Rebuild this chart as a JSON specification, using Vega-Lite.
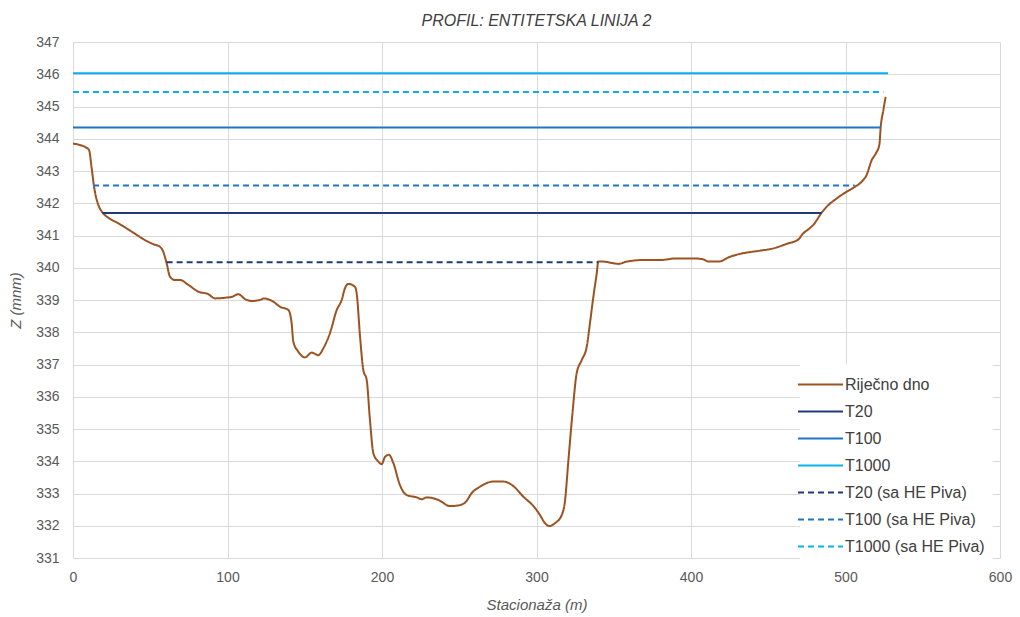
{
  "$schema": "https://vega.github.io/schema/vega-lite/v6.json",
  "width": 927,
  "height": 516,
  "autosize": "none",
  "padding": {"left": 73, "top": 42, "right": 20, "bottom": 59},
  "background": "white",
  "title": {
    "text": "PROFIL: ENTITETSKA LINIJA 2",
    "font": "Liberation Sans",
    "fontSize": 16,
    "fontStyle": "italic",
    "fontWeight": "normal",
    "color": "#404040",
    "baseline": "bottom",
    "offset": -10,
    "anchor": "middle"
  },
  "config": {
    "view": {"stroke": null},
    "font": "Liberation Sans"
  },
  "data": {
    "values": [
      {"s": "Riječno dno", "x": 0, "z": 343.85},
      {"s": "Riječno dno", "x": 8.8, "z": 343.72},
      {"s": "Riječno dno", "x": 10.4, "z": 343.65},
      {"s": "Riječno dno", "x": 12.1, "z": 343.08},
      {"s": "Riječno dno", "x": 13.8, "z": 342.46},
      {"s": "Riječno dno", "x": 16.4, "z": 341.95},
      {"s": "Riječno dno", "x": 19, "z": 341.72},
      {"s": "Riječno dno", "x": 22.9, "z": 341.55},
      {"s": "Riječno dno", "x": 29.3, "z": 341.38},
      {"s": "Riječno dno", "x": 38, "z": 341.12},
      {"s": "Riječno dno", "x": 46.6, "z": 340.86},
      {"s": "Riječno dno", "x": 52, "z": 340.73},
      {"s": "Riječno dno", "x": 56.3, "z": 340.65},
      {"s": "Riječno dno", "x": 58.4, "z": 340.5},
      {"s": "Riječno dno", "x": 60.6, "z": 340.14},
      {"s": "Riječno dno", "x": 62.8, "z": 339.72},
      {"s": "Riječno dno", "x": 66, "z": 339.62},
      {"s": "Riječno dno", "x": 69.3, "z": 339.62},
      {"s": "Riječno dno", "x": 74.6, "z": 339.47},
      {"s": "Riječno dno", "x": 81.1, "z": 339.26},
      {"s": "Riječno dno", "x": 87.6, "z": 339.18},
      {"s": "Riječno dno", "x": 91.9, "z": 339.05},
      {"s": "Riječno dno", "x": 98.4, "z": 339.07},
      {"s": "Riječno dno", "x": 103, "z": 339.1},
      {"s": "Riječno dno", "x": 107, "z": 339.18},
      {"s": "Riječno dno", "x": 111.3, "z": 339.03},
      {"s": "Riječno dno", "x": 115.7, "z": 338.97},
      {"s": "Riječno dno", "x": 122.1, "z": 339.02},
      {"s": "Riječno dno", "x": 123.2, "z": 339.05},
      {"s": "Riječno dno", "x": 129.6, "z": 338.95},
      {"s": "Riječno dno", "x": 134, "z": 338.79},
      {"s": "Riječno dno", "x": 139.4, "z": 338.69},
      {"s": "Riječno dno", "x": 141.5, "z": 338.28},
      {"s": "Riječno dno", "x": 142.6, "z": 337.71},
      {"s": "Riječno dno", "x": 145.8, "z": 337.4},
      {"s": "Riječno dno", "x": 150.2, "z": 337.22},
      {"s": "Riječno dno", "x": 154.5, "z": 337.37},
      {"s": "Riječno dno", "x": 158.8, "z": 337.29},
      {"s": "Riječno dno", "x": 162, "z": 337.5},
      {"s": "Riječno dno", "x": 166.3, "z": 337.97},
      {"s": "Riječno dno", "x": 170.7, "z": 338.69},
      {"s": "Riječno dno", "x": 173.9, "z": 339.0},
      {"s": "Riječno dno", "x": 176, "z": 339.36},
      {"s": "Riječno dno", "x": 178.2, "z": 339.5},
      {"s": "Riječno dno", "x": 182.5, "z": 339.41},
      {"s": "Riječno dno", "x": 183.6, "z": 339.21},
      {"s": "Riječno dno", "x": 185.8, "z": 337.86},
      {"s": "Riječno dno", "x": 187.9, "z": 336.83},
      {"s": "Riječno dno", "x": 190.1, "z": 336.52},
      {"s": "Riječno dno", "x": 192.2, "z": 335.28},
      {"s": "Riječno dno", "x": 194.4, "z": 334.25},
      {"s": "Riječno dno", "x": 197.6, "z": 333.99},
      {"s": "Riječno dno", "x": 199.8, "z": 333.91},
      {"s": "Riječno dno", "x": 202, "z": 334.14},
      {"s": "Riječno dno", "x": 204.5, "z": 334.2},
      {"s": "Riječno dno", "x": 207.3, "z": 333.95},
      {"s": "Riječno dno", "x": 211.7, "z": 333.25},
      {"s": "Riječno dno", "x": 216, "z": 332.95},
      {"s": "Riječno dno", "x": 222.5, "z": 332.88},
      {"s": "Riječno dno", "x": 225.7, "z": 332.82},
      {"s": "Riječno dno", "x": 228.9, "z": 332.88},
      {"s": "Riječno dno", "x": 236.5, "z": 332.8},
      {"s": "Riječno dno", "x": 244, "z": 332.61},
      {"s": "Riječno dno", "x": 250.5, "z": 332.64},
      {"s": "Riječno dno", "x": 254.4, "z": 332.75},
      {"s": "Riječno dno", "x": 258, "z": 333.01},
      {"s": "Riječno dno", "x": 263.4, "z": 333.21},
      {"s": "Riječno dno", "x": 272, "z": 333.37},
      {"s": "Riječno dno", "x": 278.5, "z": 333.37},
      {"s": "Riječno dno", "x": 285, "z": 333.23},
      {"s": "Riječno dno", "x": 291.5, "z": 332.9},
      {"s": "Riječno dno", "x": 298, "z": 332.61},
      {"s": "Riječno dno", "x": 302.3, "z": 332.33},
      {"s": "Riječno dno", "x": 305.5, "z": 332.08},
      {"s": "Riječno dno", "x": 308.3, "z": 331.99},
      {"s": "Riječno dno", "x": 312, "z": 332.08},
      {"s": "Riječno dno", "x": 316.3, "z": 332.33},
      {"s": "Riječno dno", "x": 318.4, "z": 332.75},
      {"s": "Riječno dno", "x": 320.6, "z": 334.0},
      {"s": "Riječno dno", "x": 323.3, "z": 335.5},
      {"s": "Riječno dno", "x": 326, "z": 336.73},
      {"s": "Riječno dno", "x": 329.3, "z": 337.14},
      {"s": "Riječno dno", "x": 332.5, "z": 337.55},
      {"s": "Riječno dno", "x": 334.6, "z": 338.28},
      {"s": "Riječno dno", "x": 336.8, "z": 339.1},
      {"s": "Riječno dno", "x": 339, "z": 339.83},
      {"s": "Riječno dno", "x": 340, "z": 340.19},
      {"s": "Riječno dno", "x": 343.2, "z": 340.19},
      {"s": "Riječno dno", "x": 349.7, "z": 340.14},
      {"s": "Riječno dno", "x": 353, "z": 340.12},
      {"s": "Riječno dno", "x": 358.4, "z": 340.19},
      {"s": "Riječno dno", "x": 369.1, "z": 340.24},
      {"s": "Riječno dno", "x": 380, "z": 340.24},
      {"s": "Riječno dno", "x": 390.7, "z": 340.29},
      {"s": "Riječno dno", "x": 401.5, "z": 340.29},
      {"s": "Riječno dno", "x": 408, "z": 340.26},
      {"s": "Riječno dno", "x": 411.2, "z": 340.19},
      {"s": "Riječno dno", "x": 417.7, "z": 340.19},
      {"s": "Riječno dno", "x": 425.2, "z": 340.34},
      {"s": "Riječno dno", "x": 431.7, "z": 340.43},
      {"s": "Riječno dno", "x": 440.3, "z": 340.5},
      {"s": "Riječno dno", "x": 444.7, "z": 340.53},
      {"s": "Riječno dno", "x": 453.3, "z": 340.6},
      {"s": "Riječno dno", "x": 461.9, "z": 340.74},
      {"s": "Riječno dno", "x": 469.5, "z": 340.88},
      {"s": "Riječno dno", "x": 472.7, "z": 341.07},
      {"s": "Riječno dno", "x": 475.9, "z": 341.19},
      {"s": "Riječno dno", "x": 479.2, "z": 341.33},
      {"s": "Riječno dno", "x": 484.6, "z": 341.71},
      {"s": "Riječno dno", "x": 487.8, "z": 341.89},
      {"s": "Riječno dno", "x": 494.3, "z": 342.15},
      {"s": "Riječno dno", "x": 500.8, "z": 342.36},
      {"s": "Riječno dno", "x": 506.1, "z": 342.51},
      {"s": "Riječno dno", "x": 510.5, "z": 342.67},
      {"s": "Riječno dno", "x": 513.7, "z": 342.88},
      {"s": "Riječno dno", "x": 517, "z": 343.34},
      {"s": "Riječno dno", "x": 519.7, "z": 343.55},
      {"s": "Riječno dno", "x": 521.9, "z": 343.81},
      {"s": "Riječno dno", "x": 522.8, "z": 344.37},
      {"s": "Riječno dno", "x": 524.5, "z": 344.89},
      {"s": "Riječno dno", "x": 526, "z": 345.3},
      {"s": "T20", "x": 19, "z": 341.7},
      {"s": "T20", "x": 484.6, "z": 341.7},
      {"s": "T100", "x": 0, "z": 344.35},
      {"s": "T100", "x": 522.8, "z": 344.35},
      {"s": "T1000", "x": 0, "z": 346.03},
      {"s": "T1000", "x": 527.5, "z": 346.03},
      {"s": "T20 (sa HE Piva)", "x": 60.6, "z": 340.17},
      {"s": "T20 (sa HE Piva)", "x": 340, "z": 340.17},
      {"s": "T100 (sa HE Piva)", "x": 13, "z": 342.55},
      {"s": "T100 (sa HE Piva)", "x": 506, "z": 342.55},
      {"s": "T1000 (sa HE Piva)", "x": 0, "z": 345.45},
      {"s": "T1000 (sa HE Piva)", "x": 524.5, "z": 345.45}
    ]
  },
  "mark": {"type": "line", "strokeWidth": 2, "interpolate": "monotone"},
  "encoding": {
    "x": {
      "field": "x",
      "type": "quantitative",
      "scale": {"domain": [0, 600], "nice": false, "zero": false},
      "axis": {
        "title": "Stacionaža (m)",
        "values": [0, 100, 200, 300, 400, 500, 600],
        "grid": true,
        "gridColor": "#d9d9d9",
        "gridWidth": 1,
        "domainColor": "#d9d9d9",
        "ticks": false,
        "labelFontSize": 14,
        "labelColor": "#595959",
        "labelPadding": 12,
        "labelFlush": false,
        "titleFontSize": 15,
        "titleFontStyle": "italic",
        "titleFontWeight": "normal",
        "titleColor": "#595959",
        "titlePadding": 13
      }
    },
    "y": {
      "field": "z",
      "type": "quantitative",
      "scale": {"domain": [331, 347], "nice": false, "zero": false},
      "axis": {
        "title": "Z (mnm)",
        "values": [331, 332, 333, 334, 335, 336, 337, 338, 339, 340, 341, 342, 343, 344, 345, 346, 347],
        "format": "d",
        "grid": true,
        "gridColor": "#d9d9d9",
        "gridWidth": 1,
        "domainColor": "#d9d9d9",
        "ticks": false,
        "labelFontSize": 14,
        "labelColor": "#595959",
        "labelPadding": 14,
        "labelFlush": false,
        "titleFontSize": 15,
        "titleFontStyle": "italic",
        "titleFontWeight": "normal",
        "titleColor": "#595959",
        "titlePadding": 12
      }
    },
    "color": {
      "field": "s",
      "type": "nominal",
      "scale": {
        "domain": ["Riječno dno", "T20", "T100", "T1000", "T20 (sa HE Piva)", "T100 (sa HE Piva)", "T1000 (sa HE Piva)"],
        "range": ["#9C5221", "#1F3A78", "#1F74C4", "#0AB0EE", "#1F3A78", "#1F74C4", "#0AB0EE"]
      },
      "legend": {
        "title": null,
        "orient": "none",
        "legendX": 727,
        "legendY": 322,
        "fillColor": "white",
        "padding": 8,
        "symbolType": "M-2,0H2",
        "symbolSize": 506,
        "symbolStrokeWidth": 2,
        "labelFontSize": 16,
        "labelColor": "#404040",
        "labelOffset": 12,
        "rowPadding": 6
      }
    },
    "strokeDash": {
      "field": "s",
      "type": "nominal",
      "scale": {
        "domain": ["Riječno dno", "T20", "T100", "T1000", "T20 (sa HE Piva)", "T100 (sa HE Piva)", "T1000 (sa HE Piva)"],
        "range": [[1, 0], [1, 0], [1, 0], [1, 0], [6, 4], [6, 4], [6, 4]]
      },
      "legend": {
        "title": null,
        "orient": "none",
        "legendX": 727,
        "legendY": 322,
        "fillColor": "white",
        "padding": 8,
        "symbolType": "M-2,0H2",
        "symbolSize": 506,
        "symbolStrokeWidth": 2,
        "labelFontSize": 16,
        "labelColor": "#404040",
        "labelOffset": 12,
        "rowPadding": 6
      }
    }
  }
}
